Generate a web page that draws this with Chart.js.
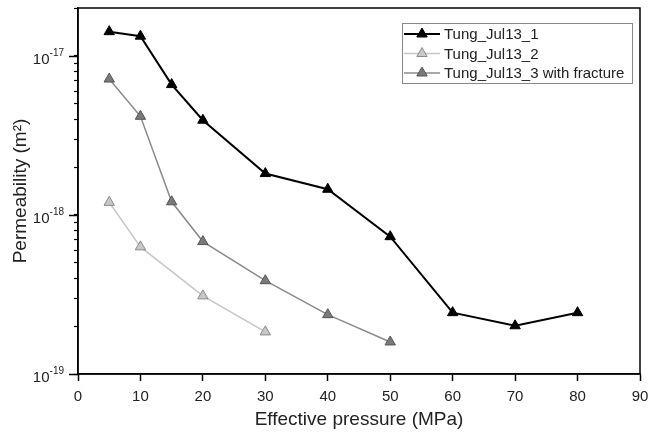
<!DOCTYPE html>
<html>
<head>
<meta charset="utf-8">
<script src="https://cdn.jsdelivr.net/npm/chart.js@4/dist/chart.umd.min.js"></script>
<style>
  html, body { margin: 0; padding: 0; background: #fff; }
  #wrap { width: 649px; height: 437px; }
</style>
</head>
<body>
<div id="wrap"><canvas id="chart" width="649" height="437"></canvas></div>
<script>
// effective pressure steps (MPa) for each sample
const pressure1 = [5, 10, 15, 20, 30, 40, 50, 60, 70, 80];
const pressure2 = [5, 10, 20, 30];
const pressure3 = [5, 10, 15, 20, 30, 40, 50];

// permeability (m^2)
const perm1 = [1.42e-17, 1.33e-17, 6.6e-18, 3.94e-18, 1.82e-18, 1.45e-18, 7.3e-19, 2.43e-19, 2.01e-19, 2.43e-19];
const perm2 = [1.2e-18, 6.3e-19, 3.1e-19, 1.84e-19];
const perm3 = [7.15e-18, 4.17e-18, 1.21e-18, 6.8e-19, 3.86e-19, 2.36e-19, 1.59e-19];

const seriesNames = ['Tung_Jul13_1', 'Tung_Jul13_2', 'Tung_Jul13_3 with fracture'];

// axes
const xTicks = [0, 10, 20, 30, 40, 50, 60, 70, 80, 90];
const yDecades = [1e-19, 1e-18, 1e-17];
const yMin = 1e-19;
const yMax = 2e-17;

const FONT = "'Liberation Sans', Arial, sans-serif";
const TEXT = '#222';

function toPoints(xs, ys) {
  return xs.map((x, i) => ({ x: x, y: ys[i] }));
}

// frame, y tick labels (10^n) and the boxed legend
const decorPlugin = {
  id: 'decor',
  afterDraw(chart) {
    const ctx = chart.ctx;
    const area = chart.chartArea;
    const yScale = chart.scales.y;

    ctx.save();
    ctx.strokeStyle = '#000';
    ctx.lineWidth = 1.5;
    ctx.strokeRect(area.left, area.top, area.right - area.left, area.bottom - area.top);

    // major ticks + labels
    ctx.fillStyle = TEXT;
    yDecades.forEach(v => {
      const py = Math.round(yScale.getPixelForValue(v)) + 0.5;
      ctx.beginPath();
      ctx.moveTo(area.left - 9, py);
      ctx.lineTo(area.left, py);
      ctx.lineWidth = 1.5;
      ctx.stroke();

      const exp = String(Math.round(Math.log10(v)));
      ctx.font = '10px ' + FONT;
      ctx.textAlign = 'right';
      ctx.textBaseline = 'alphabetic';
      const supW = ctx.measureText(exp).width;
      const right = area.left - 14;
      ctx.fillText(exp, right, py - 1);
      ctx.font = '15px ' + FONT;
      ctx.fillText('10', right - supW, py + 7);
    });

    // legend
    const lx = 402, ly = 23, lw = 230, lh = 60;
    ctx.fillStyle = '#fff';
    ctx.fillRect(lx, ly, lw, lh);
    ctx.strokeStyle = '#888';
    ctx.lineWidth = 1;
    ctx.strokeRect(lx + 0.5, ly + 0.5, lw, lh);

    chart.data.datasets.forEach((ds, i) => {
      const cy = ly + 11 + i * 19.5;
      ctx.beginPath();
      ctx.strokeStyle = ds.borderColor;
      ctx.lineWidth = ds.borderWidth;
      ctx.moveTo(lx + 2, cy);
      ctx.lineTo(lx + 38, cy);
      ctx.stroke();

      const r = ds.pointRadius;
      const cx = lx + 20;
      ctx.beginPath();
      ctx.moveTo(cx, cy - r);
      ctx.lineTo(cx + r * Math.sqrt(3) / 2, cy + r / 2);
      ctx.lineTo(cx - r * Math.sqrt(3) / 2, cy + r / 2);
      ctx.closePath();
      ctx.fillStyle = ds.pointBackgroundColor;
      ctx.fill();
      ctx.strokeStyle = ds.pointBorderColor;
      ctx.lineWidth = ds.pointBorderWidth;
      ctx.stroke();

      ctx.fillStyle = TEXT;
      ctx.font = '15px ' + FONT;
      ctx.textAlign = 'left';
      ctx.textBaseline = 'middle';
      ctx.fillText(ds.label, lx + 42, cy + 1);
    });
    ctx.restore();
  }
};

const ctx = document.getElementById('chart').getContext('2d');
const chart = new Chart(ctx, {
  type: 'line',
  data: {
    datasets: [
      {
        label: seriesNames[0],
        data: toPoints(pressure1, perm1),
        borderColor: '#000',
        borderWidth: 2,
        pointStyle: 'triangle',
        pointRadius: 6,
        pointBackgroundColor: '#000',
        pointBorderColor: '#000',
        pointBorderWidth: 1
      },
      {
        label: seriesNames[1],
        data: toPoints(pressure2, perm2),
        borderColor: '#c6c6c6',
        borderWidth: 1.5,
        pointStyle: 'triangle',
        pointRadius: 6,
        pointBackgroundColor: '#c8c8c8',
        pointBorderColor: '#8a8a8a',
        pointBorderWidth: 1
      },
      {
        label: seriesNames[2],
        data: toPoints(pressure3, perm3),
        borderColor: '#8a8a8a',
        borderWidth: 1.5,
        pointStyle: 'triangle',
        pointRadius: 6,
        pointBackgroundColor: '#7a7a7a',
        pointBorderColor: '#555',
        pointBorderWidth: 1
      }
    ]
  },
  options: {
    responsive: false,
    animation: false,
    tension: 0,
    layout: { padding: { top: 8, right: 9, left: 0, bottom: 0 } },
    plugins: {
      legend: { display: false },
      tooltip: { enabled: false }
    },
    scales: {
      x: {
        type: 'linear',
        min: 0,
        max: 90,
        afterBuildTicks: s => { s.ticks = xTicks.map(v => ({ value: v })); },
        afterFit: s => {
          s.height = 63;
          s.paddingLeft = 0;
          s.paddingRight = 0;
        },
        grid: { drawOnChartArea: false, tickLength: 7, tickColor: '#000', tickWidth: 1.5 },
        border: { color: '#000', width: 1.5 },
        ticks: { color: TEXT, font: { family: FONT, size: 15 }, padding: 7, maxRotation: 0, autoSkip: false },
        title: {
          display: true,
          text: 'Effective pressure (MPa)',
          color: TEXT,
          font: { family: FONT, size: 19 },
          padding: { top: 0, bottom: 6 }
        }
      },
      y: {
        type: 'logarithmic',
        min: yMin,
        max: yMax,
        afterBuildTicks: s => {
          const ticks = [];
          yDecades.forEach(d => {
            for (let m = 1; m <= 9; m++) {
              const v = m * d;
              if (v >= yMin && v <= yMax * 1.0001) ticks.push({ value: v });
            }
          });
          s.ticks = ticks;
        },
        afterFit: s => {
          s.width = 78;
          s.paddingTop = 0;
          s.paddingBottom = 0;
        },
        grid: { drawOnChartArea: false, tickLength: 4, tickColor: '#000', tickWidth: 1.2 },
        border: { color: '#000', width: 1.5 },
        ticks: { callback: () => '', autoSkip: false, padding: 0 },
        title: {
          display: true,
          text: 'Permeability (m²)',
          color: TEXT,
          font: { family: FONT, size: 19 },
          padding: { top: 9, bottom: 0 }
        }
      }
    }
  },
  plugins: [decorPlugin]
});
</script>
</body>
</html>
